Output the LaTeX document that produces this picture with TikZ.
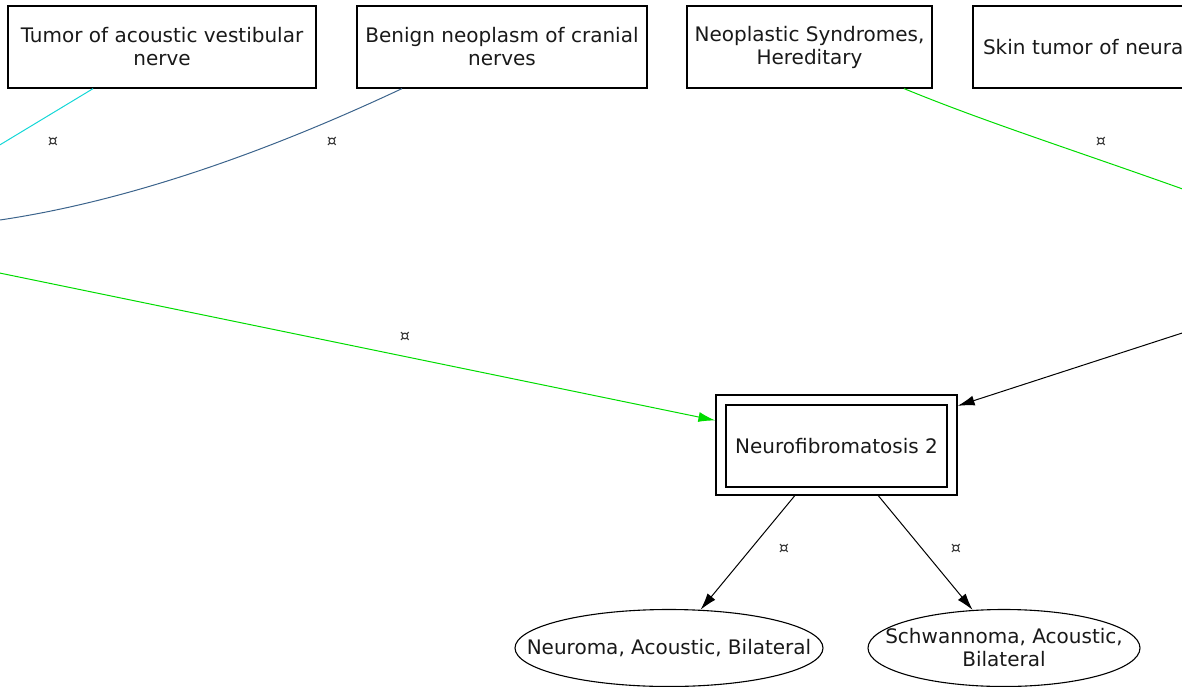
\documentclass[tikz,border=0pt]{standalone}
\usepackage{fontspec}
\setmainfont{DejaVu Sans}
\usetikzlibrary{arrows.meta,shapes.geometric,calc}
\definecolor{edgecyan}{RGB}{20,215,215}
\definecolor{edgeblue}{RGB}{60,100,140}
\definecolor{edgegreen}{RGB}{0,220,0}
\definecolor{labgray}{RGB}{50,50,50}
\definecolor{txt}{RGB}{25,25,25}
\begin{document}
\begin{tikzpicture}[x=1pt,y=-1pt,
  boxfont/.style={font=\fontsize{20}{23}\selectfont, text=txt},
  box/.style={draw, line width=1.2pt, minimum height=82pt, inner sep=0pt, align=center, boxfont},
  ell/.style={ellipse, draw, line width=1.1pt, inner sep=0pt, minimum height=77pt},
  lab/.style={font=\fontsize{16}{16}\selectfont, text=labgray, inner sep=0pt},
  conn/.style={line width=1pt},
  tip/.style={-{Latex[length=17pt,width=10pt]}}
]
\useasboundingbox (0,0) rectangle (1182,687);
\clip (0,0) rectangle (1182,687);

% top boxes
\node[box, minimum width=308pt] (b1) at (162,47) {Tumor of acoustic vestibular\\nerve};
\node[box, minimum width=290pt] (b2) at (502,47) {Benign neoplasm of cranial\\nerves};
\node[box, minimum width=245pt] (b3) at (809.5,47) {Neoplastic Syndromes,\\Hereditary};
\node[box, minimum width=260pt, text width=240pt, align=left, anchor=west] (b4) at (972.4,47) {Skin tumor of neura};

% central node
\node[box, minimum width=241pt, minimum height=100pt] (nf) at (836.5,445) {};
\node[box, minimum width=221pt, minimum height=82pt] (nfi) at (836.5,446) {Neurofibromatosis 2};

% ellipses
\node[ell, minimum width=308pt, label={[boxfont]center:Neuroma, Acoustic, Bilateral}] (e1) at (669,648) {};
\node[ell, minimum width=272pt, label={[boxfont, align=center]center:Schwannoma, Acoustic,\\Bilateral}] (e2) at (1004,648) {};

% free ends
\coordinate (c1) at (-50,175);
\coordinate (c2) at (0,220);
\coordinate (c3) at (1260,217);
\coordinate (c4) at (-100,252.5);
\coordinate (c5) at (1250,311);

% connectors
\draw[conn, edgecyan] (b1) -- (c1);
\draw[conn, edgeblue] ([xshift=-100pt]b2.south) .. controls (250,160) and (115,203) .. (c2);
\draw[conn, edgegreen] ([xshift=94.5pt]b3.south) .. controls (1000,128) and (1100,158) .. (c3);
\draw[conn, edgegreen, tip] (c4) -- (nf);
\draw[conn, tip] (c5) -- (nf);
\draw[conn, tip] (nf) -- (e1);
\draw[conn, tip] (nf) -- (e2);

% edge labels
\node[lab] (l1) at (53,142) {¤};
\node[lab] (l2) at (332,142) {¤};
\node[lab] (l3) at (1101,142) {¤};
\node[lab] (l4) at (405,337) {¤};
\node[lab] (l5) at (784,549) {¤};
\node[lab] (l6) at (956,549) {¤};
\end{tikzpicture}
\end{document}
